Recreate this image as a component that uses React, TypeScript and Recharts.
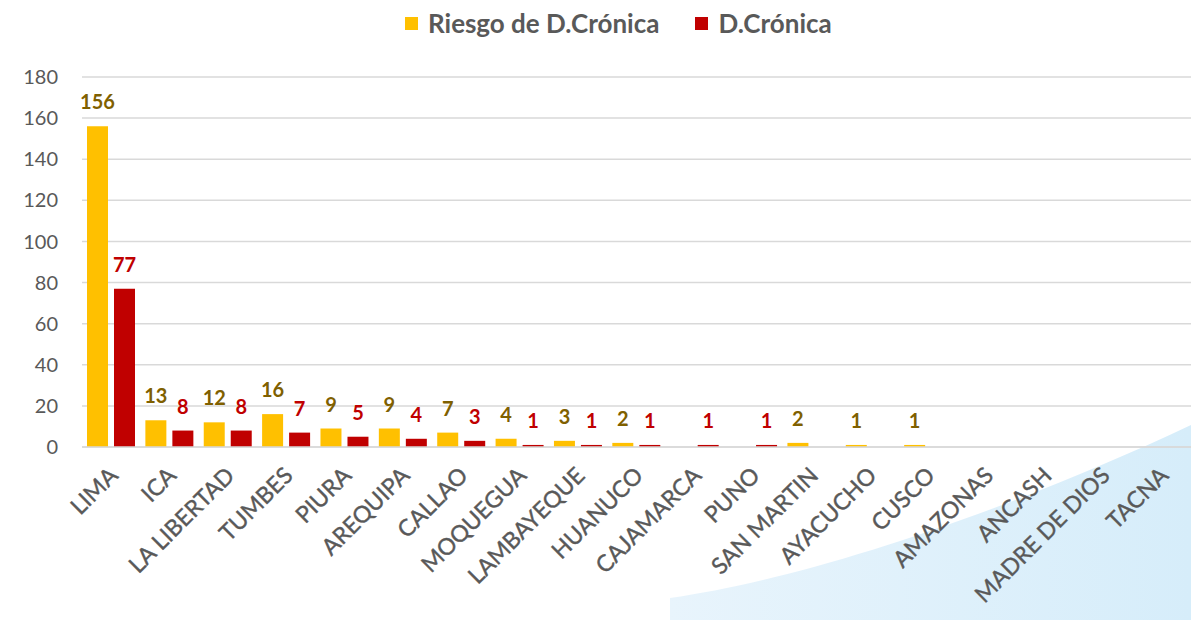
import React from 'react';
import {
  BarChart, Bar, XAxis, YAxis, CartesianGrid, Legend, LabelList,
} from 'recharts';

// regiones (eje X)
const regions = [
  'LIMA', 'ICA', 'LA LIBERTAD', 'TUMBES', 'PIURA', 'AREQUIPA', 'CALLAO', 'MOQUEGUA',
  'LAMBAYEQUE', 'HUANUCO', 'CAJAMARCA', 'PUNO', 'SAN MARTIN', 'AYACUCHO', 'CUSCO',
  'AMAZONAS', 'ANCASH', 'MADRE DE DIOS', 'TACNA',
];

// Riesgo de D.Crónica
const riesgo = [156, 13, 12, 16, 9, 9, 7, 4, 3, 2, null, null, 2, 1, 1, null, null, null, null];

// D.Crónica
const cronica = [77, 8, 8, 7, 5, 4, 3, 1, 1, 1, 1, 1, null, null, null, null, null, null, null];

const yTicks = [0, 20, 40, 60, 80, 100, 120, 140, 160, 180];

const YELLOW = '#FFC000';
const RED = '#C00000';
const FONT = 'Lato, "Open Sans", sans-serif';

const data = regions.map((name, i) => ({ name, riesgo: riesgo[i], cronica: cronica[i] }));

const legendItems = [
  { label: 'Riesgo de D.Crónica', color: YELLOW },
  { label: 'D.Crónica', color: RED },
];

const RegionTick = (props: any) => {
  const { x, y, payload } = props;
  const ax = x + 8;
  const ay = y + 22;
  return (
    <text
      x={ax}
      y={ay}
      transform={`rotate(-45, ${ax}, ${ay})`}
      textAnchor="end"
      fill="#595959"
      stroke="#595959"
      strokeWidth={0.4}
      fontSize={23}
      fontFamily={FONT}
    >
      {payload.value}
    </text>
  );
};

const makeLabel = (color: string) => (props: any) => {
  const { x, y, width, value } = props;
  if (value == null) return null;
  return (
    <text
      x={x + width / 2}
      y={y - 17}
      textAnchor="middle"
      fill={color}
      fontSize={20}
      fontWeight={700}
      fontFamily={FONT}
    >
      {value}
    </text>
  );
};

const LegendContent = () => (
  <div style={{ height: 69, display: 'flex', justifyContent: 'flex-start', fontFamily: FONT, paddingLeft: 405 }}>
    {legendItems.map((item) => (
      <div
        key={item.label}
        style={{ display: 'flex', alignItems: 'center', height: 30, marginRight: item.color === YELLOW ? 36 : 0 }}
      >
        <span style={{ width: 13, height: 13, background: item.color, marginRight: 10, display: 'inline-block' }} />
        <span style={{ fontSize: 26, fontWeight: 700, color: '#595959' }}>{item.label}</span>
      </div>
    ))}
  </div>
);

export default function App() {
  return (
    <div style={{ position: 'absolute', left: 0, top: 0, width: 1191, height: 620, background: '#fff', overflow: 'hidden' }}>
      {/* fondo decorativo */}
      <svg width={1191} height={620} style={{ position: 'absolute', left: 0, top: 0 }}>
        <defs>
          <linearGradient id="swoosh" x1="0" y1="0" x2="1" y2="0">
            <stop offset="0%" stopColor="#e8f4fc" />
            <stop offset="100%" stopColor="#d6edfa" />
          </linearGradient>
        </defs>
        <path d="M670,620 L670,598 C800,580 1000,515 1191,425 L1191,620 Z" fill="url(#swoosh)" />
      </svg>
      <div style={{ position: 'absolute', left: 0, top: 0 }}>
        <BarChart
          width={1191}
          height={620}
          data={data}
          margin={{ top: 8, right: 0, left: 0, bottom: 0 }}
          barSize={21}
          barGap={6}
        >
          <CartesianGrid vertical={false} stroke="#d9d9d9" strokeWidth={1.5} />
          <Legend verticalAlign="top" content={<LegendContent />} />
          <XAxis
            dataKey="name"
            interval={0}
            height={173}
            tick={<RegionTick />}
            tickLine={false}
            axisLine={{ stroke: '#d9d9d9', strokeWidth: 1.5 }}
          />
          <YAxis
            width={82}
            domain={[0, 180]}
            ticks={yTicks}
            axisLine={false}
            tickLine={false}
            tickMargin={18}
            tick={{ fill: '#595959', fontSize: 20, fontFamily: FONT }}
          />
          <Bar dataKey="riesgo" fill={YELLOW} isAnimationActive={false}>
            <LabelList dataKey="riesgo" content={makeLabel('#7F6000')} />
          </Bar>
          <Bar dataKey="cronica" fill={RED} isAnimationActive={false}>
            <LabelList dataKey="cronica" content={makeLabel(RED)} />
          </Bar>
        </BarChart>
      </div>
    </div>
  );
}
